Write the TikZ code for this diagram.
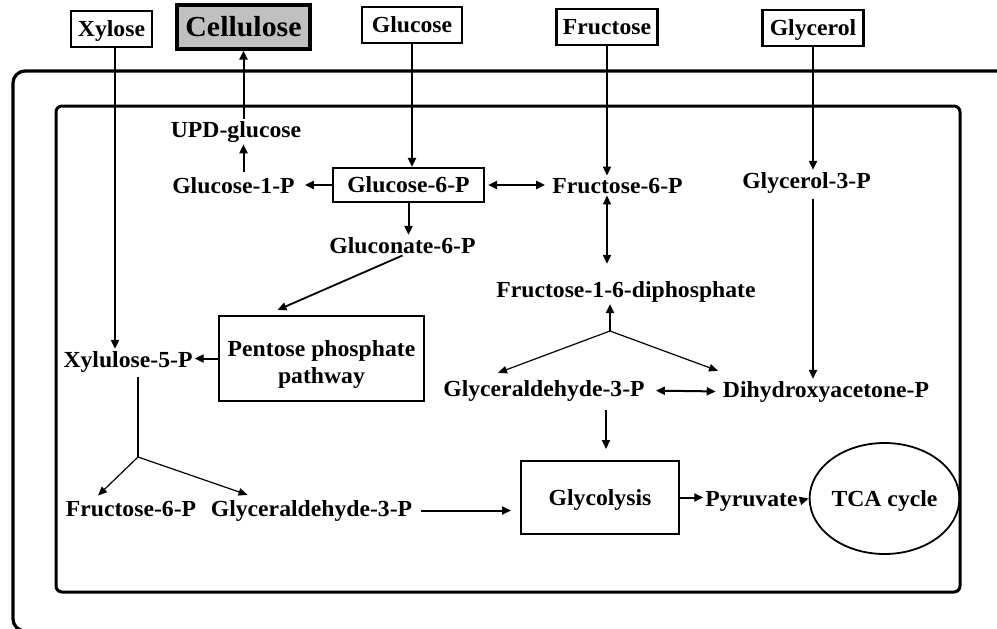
\documentclass[tikz,border=0pt]{standalone}
\usepackage{fontspec}
\setmainfont{Liberation Serif}[FakeStretch=1.03]
\usetikzlibrary{arrows.meta,shapes.geometric,calc}
\definecolor{cellgray}{RGB}{192,192,192}
\begin{document}
\begin{tikzpicture}[x=1pt,y=-1pt,
  font=\fontsize{23}{25}\selectfont\bfseries,
  lbl/.style={inner sep=2pt, anchor=base},
  srcbox/.style={draw, line width=2.8pt, minimum height=36pt, inner sep=0pt, text height=15pt, text depth=0pt},
  procbox/.style={draw, line width=2pt, inner sep=0pt, text height=15pt, text depth=0pt},
  twolinebox/.style={draw, line width=2pt, inner sep=0pt, align=center, font=\fontsize{23}{27}\selectfont\bfseries},
  arr/.style={line width=2pt, -{Triangle[length=9pt,width=8pt]}},
  darr/.style={line width=2pt, {Triangle[length=9pt,width=8pt]}-{Triangle[length=9pt,width=8pt]}},
  thinarr/.style={line width=1.2pt, -{Triangle[length=9pt,width=7.5pt]}},
  framestyle/.style={line width=3pt}]
\useasboundingbox (0,0) rectangle (997,629);
\clip (0,0) rectangle (997,629);

% frames
\draw[framestyle, line width=3.2pt, rounded corners=12pt] (1010,71) -- (13,71) -- (13,631) -- (120,631);
\draw[framestyle, rounded corners=6pt] (56,106) rectangle (960,592);

% source boxes
\node[srcbox, minimum width=81pt] (xylose) at (111.5,29) {Xylose};
\node[srcbox, minimum width=133pt, minimum height=44pt, fill=cellgray, line width=3.2pt, text height=19pt, font=\fontsize{29}{31}\selectfont\bfseries] (cellulose) at (243.5,27) {Cellulose};
\node[srcbox, minimum width=100pt] (glucose) at (412,25) {Glucose};
\node[srcbox, minimum width=101pt] (fructose) at (607,27) {Fructose};
\node[srcbox, minimum width=101pt] (glycerol) at (813,28) {Glycerol};

% metabolites
\node[lbl] (upd) at (236,137) {UPD-glucose};
\node[lbl] (g1p) at (233.5,193) {Glucose-1-P};
\node[procbox, minimum width=151pt, minimum height=34pt, line width=2.2pt] (g6p) at (408.5,185) {Glucose-6-P};
\node[lbl] (f6p) at (617.5,193) {Fructose-6-P};
\node[lbl] (g3p) at (806.5,188) {Glycerol-3-P};
\node[lbl] (gcn) at (402.5,253) {Gluconate-6-P};
\node[lbl] (f16) at (626,297) {Fructose-1-6-diphosphate};
\node[twolinebox, minimum width=205pt, minimum height=85pt] (ppp) at (321.5,358.5) {\rule{0pt}{27pt}Pentose phosphate\\pathway};
\node[lbl] (xyl) at (128,367) {Xylulose-5-P};
\node[lbl] (gapr) at (544,396) {Glyceraldehyde-3-P};
\node[lbl] (dhap) at (826,397) {Dihydroxyacetone-P};
\node[lbl] (f6pb) at (131,516) {Fructose-6-P};
\node[lbl] (gapb) at (311.5,516) {Glyceraldehyde-3-P};
\node[procbox, minimum width=158pt, minimum height=73pt] (gly) at (600,497.5) {Glycolysis};
\node[lbl] (pyr) at (751.5,506) {Pyruvate};
\node[draw, ellipse, line width=1.8pt, minimum width=131pt, minimum height=111pt, inner sep=0pt, text height=15pt, text depth=0pt] (tca) at (884.5,498.5) {TCA cycle};

% branch points
\coordinate (br1) at (138,457);
\coordinate (br2) at (610,331);
\coordinate (xa) at ([xshift=3.5pt]xylose.south);
\coordinate (gtop) at ([xshift=6pt]gly.north);

% connectors
\draw[arr] (xa) -- (xa |- xyl.north);
\draw[arr] (upd.north -| cellulose.south) -- (cellulose.south);
\draw[arr, shorten <=3pt] (g1p.north -| cellulose.south) -- (upd.south -| cellulose.south);
\draw[arr, shorten >=8pt] (g6p.west) -- (g6p.west -| g1p.east);
\draw[arr] (glucose.south) -- (glucose.south |- g6p.north);
\draw[darr, shorten <=3pt, shorten >=5pt] (g6p.east) -- (g6p.east -| f6p.west);
\draw[arr] (fructose.south) -- (fructose.south |- f6p.north);
\draw[darr, shorten >=15pt] (f6p.south -| fructose.south) -- (f16.north -| fructose.south);
\draw[arr] (glycerol.south) -- (glycerol.south |- g3p.north);
\draw[arr, shorten <=4pt] (g3p.south -| glycerol.south) -- (dhap.north -| glycerol.south);
\draw[arr] (g6p.south) -- (g6p.south |- gcn.north);
\draw[arr, line width=1.8pt] (gcn.south) -- ([xshift=-44pt,yshift=5pt]ppp.north);
\draw[arr] (ppp.west) -- (ppp.west -| xyl.east);
\draw[line width=1.5pt, shorten <=3pt] (xyl.south -| br1) -- (br1);
\draw[thinarr] (br1) -- ([xshift=-33pt,yshift=3pt]f6pb.north);
\draw[thinarr] (br1) -- ([xshift=-64pt,yshift=3pt]gapb.north);
\draw[arr, shorten <=7pt, shorten >=9pt] (gapb.east) -- (gapb.east -| gly.west);
\draw[arr] (gly.east) -- (gly.east -| pyr.west);
\draw[arr] (pyr.east) -- (tca.west);
\draw[arr] (br2) -- (br2 |- f16.south);
\draw[thinarr] (br2) -- ([xshift=-46pt,yshift=5pt]gapr.north);
\draw[thinarr] (br2) -- ([xshift=-108pt,yshift=8pt]dhap.north);
\draw[darr, shorten <=9pt, shorten >=5pt] (gapr.east) -- (dhap.west);
\draw[arr, shorten <=7pt, shorten >=11pt] (gtop |- gapr.south) -- (gtop);
\end{tikzpicture}
\end{document}
